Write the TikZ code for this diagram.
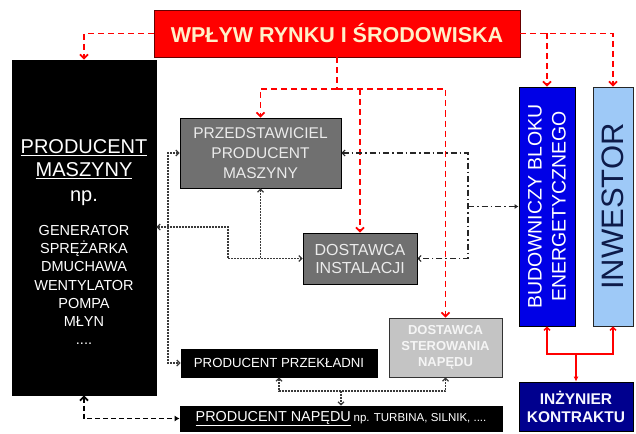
\documentclass[tikz,border=0pt]{standalone}
\usepackage{fontspec}
\setmainfont{Liberation Sans}
\setsansfont{Liberation Sans}
\usetikzlibrary{arrows.meta}
\definecolor{cream}{HTML}{FFF0C8}
\definecolor{midgray}{HTML}{707070}
\definecolor{lightgr}{HTML}{C4C4C4}
\definecolor{bblue}{HTML}{0000E6}
\definecolor{lblue}{HTML}{9EC9F7}
\definecolor{navytxt}{HTML}{0D1B4A}
\definecolor{navybox}{HTML}{00008E}
\definecolor{dotcol}{HTML}{3A3A3A}
\newcommand{\fs}[2]{\fontsize{#1}{#2}\selectfont}
\begin{document}
\begin{tikzpicture}[x=1pt,y=-1pt,
  bx/.style={draw=black, line width=0.8pt, inner sep=0pt, align=center},
  gbox/.style={bx, fill=midgray, text=black!8},
  wt/.style={inner sep=0pt, align=center, text=white},
  rdash/.style={draw=red, line width=1.7pt, dash pattern=on 6pt off 4pt, -{Straight Barb[length=4pt,width=8pt]}},
  rdashn/.style={draw=red, line width=1.7pt, dash pattern=on 6pt off 4pt},
  rsol/.style={draw=red, line width=1.4pt},
  barb/.tip={Straight Barb[length=3pt,width=6pt]},
  dotl/.style={draw=dotcol, line width=1.2pt, dash pattern=on 2pt off 1pt, arrows={barb-barb}},
  ddot/.style={draw=black!85, line width=1.1pt, dash pattern=on 6pt off 3pt on 1.5pt off 3pt},
  bdash/.style={draw=black, line width=1.8pt, dash pattern=on 5pt off 3pt}
]
\useasboundingbox (0,0) rectangle (636,433);

% boxes
\node[bx, fill=red, draw=black!60!red, minimum width=366, minimum height=47,
      text=cream, font=\bfseries\fs{21.5}{24}] (title) at (337,33.5) {WPŁYW RYNKU I ŚRODOWISKA};
\node[bx, fill=black, minimum width=144, minimum height=335] (pm) at (84,227.5) {};
\node[wt, font=\fs{20}{23}] (pmt) at (84,159) {\underline{PRODUCENT}\\\underline{MASZYNY}};
\node[wt, font=\fs{20}{23}] (pmnp) at (84,198) {np.};
\node[wt, font=\fs{14.5}{18.3}] (pml) at (84,285) {GENERATOR\\SPRĘŻARKA\\DMUCHAWA\\WENTYLATOR\\POMPA\\MŁYN\\....};

\node[gbox, minimum width=161, minimum height=70, font=\fs{15.5}{20}] (prz) at (260.5,153)
      {PRZEDSTAWICIEL\\PRODUCENT\\MASZYNY};
\node[gbox, minimum width=114, minimum height=51, font=\fs{16}{18}] (dins) at (360,258.5)
      {DOSTAWCA\\INSTALACJI};
\node[bx, fill=lightgr, draw=black!80, text=black!4, minimum width=113, minimum height=59,
      font=\bfseries\fs{13}{16}] (dster) at (445.5,347.5) {DOSTAWCA\\STEROWANIA\\NAPĘDU};
\node[bx, fill=black, text=white, minimum width=196, minimum height=28, font=\fs{13.2}{15}] (przek)
      at (279,363) {PRODUCENT PRZEKŁADNI};
\node[bx, fill=black, text=white, minimum width=322, minimum height=25] (napedu) at (341,418.5)
      {{\fs{14.4}{16}\underline{PRODUCENT NAPĘDU}} {\fs{11.5}{13}np. TURBINA, SILNIK, ....}};

\node[bx, fill=bblue, minimum width=56, minimum height=239] (bud) at (547,206.5) {};
\node[wt, rotate=90, font=\fs{19.5}{24}] (budt) at (bud.center) {BUDOWNICZY BLOKU\\ENERGETYCZNEGO};
\node[bx, fill=lblue, draw=black!85, minimum width=40, minimum height=239] (inw) at (613,206.5) {};
\node[wt, rotate=90, text=navytxt, font=\fs{31}{34}] (inwt) at (inw.center) {INWESTOR};
\node[bx, fill=navybox, text=black!3!blue!3!white, minimum width=114, minimum height=49,
      font=\bfseries\fs{15.5}{18}] (inz) at (576,406.5) {INŻYNIER\\KONTRAKTU};

% red dashed connectors
\draw[rdash] (title.west) -| (pm.north);
\draw[rdash] (title.east) -| (inw.north);
\draw[rdash] (title.east -| bud.north) -- (bud.north);
\coordinate (rj) at (337,89);
\draw[rdashn] (title.south) -- (rj);
\draw[rdash] (rj) -| (prz.north);
\draw[rdash] (rj) -| (dster.north);
\draw[rdash] (rj -| dins.north) -- (dins.north);

% dotted connectors
\coordinate (c1) at (168,153);
\draw[dotl] (prz.west) -- (c1) |- (przek.west);
\coordinate (c2) at (228,227);
\draw[dotl] (pm.east |- c2) -- (c2) |- (dins.west);
\draw[dotl, arrows={barb-}] (prz.south) -- (prz.south |- dins.west);
\coordinate (c3) at (341,391);
\draw[dotl] (przek.south) |- (c3) -| (dster.south);
\draw[dotl, arrows={-barb}] (c3) -- (napedu.north);

% dash-dot connectors
\coordinate (c4) at (468,206.5);
\draw[ddot, arrows={barb-barb}] (prz.east) -| (c4) |- (dins.east);
\draw[ddot, -{Latex[length=4pt,width=5pt]}] (c4) -- (bud.west);

% thick dashed
\draw[bdash, {Straight Barb[length=4pt,width=8pt]}-{Latex[length=5pt,width=6pt]}] (pm.south) |- (napedu.west);

% red solid
\coordinate (c6) at (576,354);
\draw[rsol, {Straight Barb[length=3pt,width=6pt]}-{Straight Barb[length=3pt,width=6pt]}] (bud.south) |- (c6) -| (inw.south);
\draw[rsol, -{Latex[length=5pt,width=5pt]}] (c6) -- (inz.north);
\end{tikzpicture}
\end{document}
